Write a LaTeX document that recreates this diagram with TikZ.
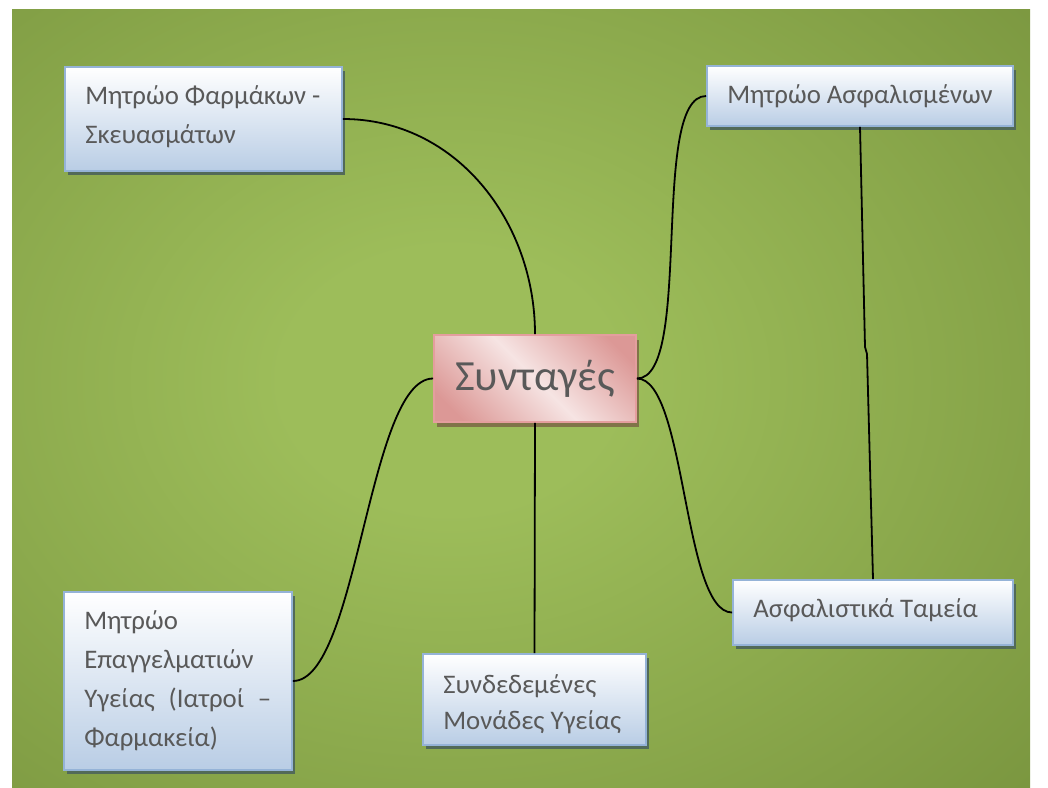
\documentclass[tikz,border=0pt]{standalone}
\usepackage{fontspec}
\setmainfont{Carlito}
\usetikzlibrary{shadows}
\definecolor{bgL}{RGB}{157,189,90}
\definecolor{bgD}{RGB}{114,141,57}
\definecolor{boxB}{RGB}{185,205,229}
\definecolor{boxE}{RGB}{149,179,215}
\definecolor{boxS}{RGB}{82,106,88}
\definecolor{pinkD}{RGB}{220,152,150}
\definecolor{pinkL}{RGB}{246,228,227}
\definecolor{pinkE}{RGB}{228,158,158}
\definecolor{pinkS}{RGB}{128,116,72}
\definecolor{txt}{RGB}{89,89,89}
\pgfdeclareradialshading{bgshade}{\pgfpoint{0bp}{0bp}}{color(0bp)=(bgL); color(7bp)=(bgL); color(39bp)=(bgD); color(75bp)=(bgD)}
\pgfdeclarehorizontalshading{synshade}{100bp}{color(0bp)=(pinkD); color(22bp)=(pinkD); color(50bp)=(pinkL); color(78bp)=(pinkD); color(100bp)=(pinkD)}
\tikzset{
  bluebox/.style={draw=boxE, line width=1.8pt, top color=white, bottom color=boxB,
    inner sep=0pt, general shadow={fill=boxS, shadow xshift=3pt, shadow yshift=-4pt}},
  pinkbox/.style={draw=pinkE, line width=1.8pt, shading=synshade, shading angle=45,
    inner sep=0pt, text=txt, font=\fontsize{43}{50}\selectfont,
    general shadow={fill=pinkS, shadow xshift=3pt, shadow yshift=-5pt}},
  boxtext/.style={anchor=west, inner sep=0pt, align=left, text=txt, font=\fontsize{26.8}{39}\selectfont},
  conn/.style={draw=black, line width=1.8pt}
}
\begin{document}
\begin{tikzpicture}[x=1pt,y=-1pt]
\useasboundingbox (0,0) rectangle (1048,787);
\fill[bgD] (12,9) rectangle (1030,787);
\begin{scope}
  \clip (12,9) rectangle (1030,787);
  \shade[shading=bgshade] (-150,-90) rectangle (1050,850);
\end{scope}
% boxes
\node[bluebox, minimum width=277pt, minimum height=104pt] (far) at (203.5,119) {};
\node[bluebox, minimum width=306pt, minimum height=60pt] (asm) at (860,96) {};
\node[bluebox, minimum width=228pt, minimum height=178pt] (epa) at (178,681) {};
\node[bluebox, minimum width=223pt, minimum height=91pt] (mon) at (534.5,699.5) {};
\node[bluebox, minimum width=280pt, minimum height=65pt] (tam) at (873,612.5) {};
\node[pinkbox, minimum width=202pt, minimum height=87pt] (syn) at (535,378.5) {Συνταγές};
% texts
\node[boxtext] (farT) at ([xshift=21pt,yshift=2pt]far.west) {Μητρώο Φαρμάκων -\\Σκευασμάτων};
\node[boxtext] (asmT) at ([xshift=21pt]asm.west) {Μητρώο Ασφαλισμένων};
\node[boxtext] (epaT) at ([xshift=21pt]epa.west) {Μητρώο\\Επαγγελματιών\\\makebox[187pt][s]{Υγείας (Ιατροί –}\\Φαρμακεία)};
\node[boxtext, font=\fontsize{26.8}{36}\selectfont] (monT) at ([xshift=21pt,yshift=-5pt]mon.west) {Συνδεδεμένες\\Μονάδες Υγείας};
\node[boxtext] (tamT) at ([xshift=21pt,yshift=2pt]tam.west) {Ασφαλιστικά Ταμεία};
% connectors
\coordinate (k1) at (865,347);
\coordinate (k2) at (867,354);
\draw[conn] (far.east) to[out=0,in=90] (syn.north);
\draw[conn] (syn.east) to[out=0,in=180,looseness=0.5] (asm.west);
\draw[conn] (syn.east) to[out=0,in=180,looseness=0.5] (tam.west);
\draw[conn] (syn.west) to[out=180,in=0,looseness=0.5] (epa.east);
\draw[conn] (syn.south) -- (mon.north);
\draw[conn] (asm.south) -- (k1) -- (k2) -- (tam.north);
\end{tikzpicture}
\end{document}
